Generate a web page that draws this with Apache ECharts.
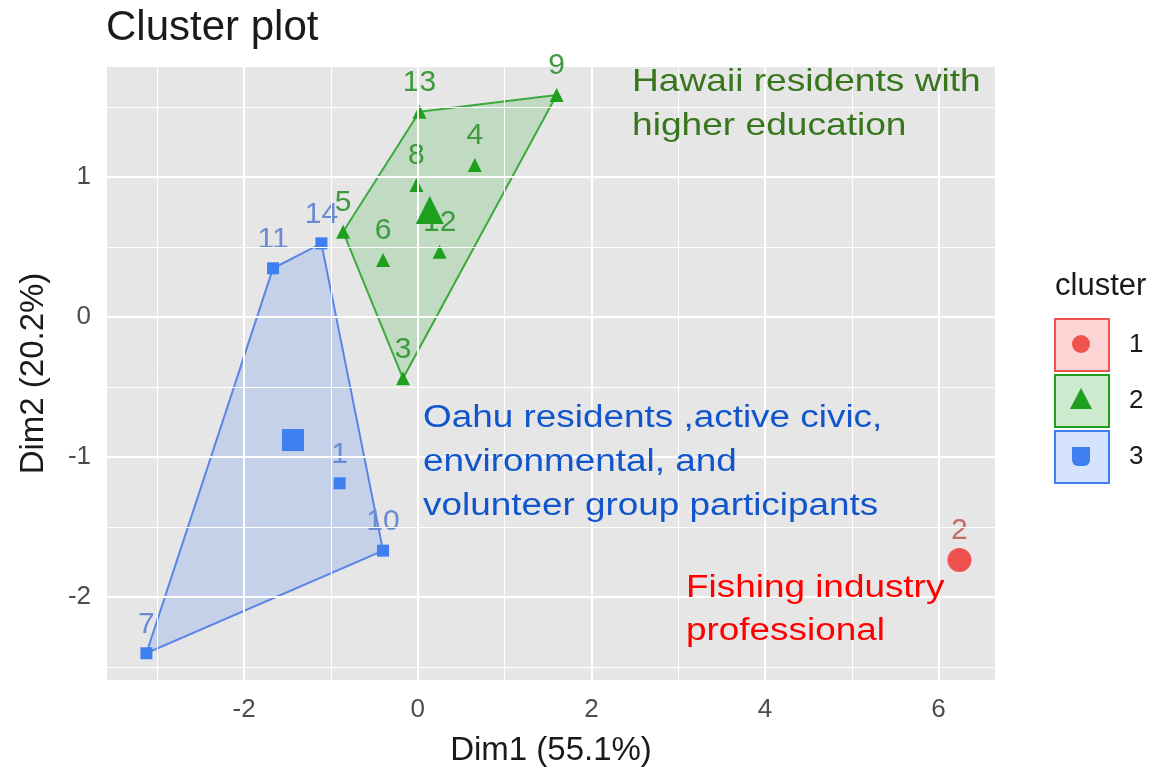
<!DOCTYPE html>
<html>
<head>
<meta charset="utf-8">
<script src="https://cdn.jsdelivr.net/npm/echarts@6/dist/echarts.min.js"></script>
<style>html,body{margin:0;padding:0;background:#fff;}#c{width:1174px;height:772px;}</style>
</head>
<body>
<div id="c"></div>
<script>
// ---- data ----
const cluster1Labels = ['2'];
const cluster1X = [6.24];
const cluster1Y = [-1.736];

const cluster2Labels = ['3', '4', '5', '6', '8', '9', '12', '13'];
const cluster2X = [-0.17, 0.657, -0.86, -0.40, -0.015, 1.60, 0.253, 0.02];
const cluster2Y = [-0.438, 1.086, 0.609, 0.407, 0.943, 1.586, 0.466, 1.466];

const cluster3Labels = ['1', '7', '10', '11', '14'];
const cluster3X = [-0.90, -3.126, -0.40, -1.667, -1.11];
const cluster3Y = [-1.188, -2.402, -1.669, 0.348, 0.526];

const centerX = [6.24, 0.138, -1.437];
const centerY = [-1.736, 0.764, -0.879];

const hull2 = ['13', '9', '3', '5'];
const hull3 = ['14', '10', '7', '11'];

const xMajor = [-2, 0, 2, 4, 6];
const xMinor = [-3, -1, 1, 3, 5];
const yMajor = [-2, -1, 0, 1];
const yMinor = [-2.5, -1.5, -0.5, 0.5, 1.5];

const legendLabels = ['1', '2', '3'];

// ---- styles ----
const FONT = 'Liberation Sans, Arial, Helvetica, sans-serif';
const RED = '#F0524F', GREEN = '#1E9F1E', BLUE = '#3F7FF0';
const RED_LBL = '#C86A6A', GREEN_LBL = '#3D9B3D', BLUE_LBL = '#6A8AD4';

function pts(xs, ys, labels) {
  return xs.map((x, i) => ({ value: [x, ys[i]], name: labels[i] }));
}

function hullSeries(xs, ys, labels, hull, stroke, fill) {
  const verts = hull.map(l => { const i = labels.indexOf(l); return [xs[i], ys[i]]; });
  return {
    type: 'custom', silent: true, z: 2, data: verts,
    encode: { x: 0, y: 1 },
    renderItem: function (params, api) {
      if (params.dataIndex !== 0) return null;
      return {
        type: 'polygon',
        shape: { points: verts.map(v => api.coord(v)) },
        style: { fill: fill, stroke: stroke, lineWidth: 2 }
      };
    }
  };
}

function pointSeries(xs, ys, labels, symbol, size, color, lblColor) {
  return {
    type: 'scatter', z: 4, symbol: symbol, symbolSize: size,
    data: pts(xs, ys, labels),
    itemStyle: { color: color, opacity: 1 },
    label: {
      show: true, formatter: '{b}', position: 'inside', offset: [0, -29],
      color: lblColor, fontSize: 30, fontFamily: FONT
    },
    emphasis: { disabled: true }
  };
}

const gridLines = [];
xMajor.forEach(v => gridLines.push({ xAxis: v, lineStyle: { width: 2 } }));
xMinor.forEach(v => gridLines.push({ xAxis: v, lineStyle: { width: 1 } }));
yMajor.forEach(v => gridLines.push({ yAxis: v, lineStyle: { width: 2 } }));
yMinor.forEach(v => gridLines.push({ yAxis: v, lineStyle: { width: 1 } }));

const chart = echarts.init(document.getElementById('c'), null, { renderer: 'canvas' });

const legendColors = [RED, GREEN, BLUE];
const legendFill = ['rgba(240,82,79,0.25)', 'rgba(30,160,30,0.22)', 'rgba(63,127,240,0.22)'];
const legendSymbols = ['circle', 'triangle', 'rect'];
const legendGraphics = [];
legendLabels.forEach((lab, i) => {
  const top = 318 + i * 56;
  legendGraphics.push({
    type: 'rect', left: 1054, top: top, shape: { width: 54, height: 52 },
    style: { fill: legendFill[i], stroke: legendColors[i], lineWidth: 2 }, z: 10
  });
  let shapeEl;
  if (legendSymbols[i] === 'circle') {
    shapeEl = { type: 'circle', shape: { cx: 1081, cy: top + 26, r: 9 } };
  } else if (legendSymbols[i] === 'triangle') {
    shapeEl = { type: 'polygon', shape: { points: [[1081, top + 14], [1092, top + 35], [1070, top + 35]] } };
  } else {
    shapeEl = { type: 'rect', shape: { x: 1072, y: top + 17, width: 18, height: 19, r: [0, 0, 6, 6] } };
  }
  shapeEl.style = { fill: legendColors[i] };
  shapeEl.z = 11;
  legendGraphics.push(shapeEl);
  legendGraphics.push({
    type: 'text', left: 1129, top: top + 14, z: 11,
    style: { text: lab, font: '26px ' + FONT, fill: '#1a1a1a' }
  });
});
legendGraphics.push({
  type: 'text', left: 1055, top: 271, z: 11,
  style: { text: 'cluster', font: '31px ' + FONT, fill: '#1a1a1a' }
});

const annotations = [
  { type: 'text', x: 632, y: 60, scaleX: 1.16, z: 12,
    style: { text: 'Hawaii residents with\nhigher education', font: '32px ' + FONT, fill: '#38761D', lineHeight: 44 } },
  { type: 'text', x: 423, y: 396, scaleX: 1.19, z: 12,
    style: { text: 'Oahu residents ,active civic,\nenvironmental, and\nvolunteer group participants', font: '31px ' + FONT, fill: '#1155CC', lineHeight: 44 } },
  { type: 'text', x: 686, y: 567, scaleX: 1.19, z: 12,
    style: { text: 'Fishing industry\nprofessional', font: '31px ' + FONT, fill: '#FF0000', lineHeight: 43 } }
];

const option = {
  animation: false,
  backgroundColor: '#ffffff',
  title: {
    text: 'Cluster plot', left: 106, top: 7, padding: 0,
    textStyle: { fontSize: 42, fontWeight: 'normal', color: '#1a1a1a', fontFamily: FONT }
  },
  grid: {
    left: 107, right: 179, top: 67, bottom: 92,
    show: true, backgroundColor: '#E6E6E6', borderWidth: 0
  },
  xAxis: {
    type: 'value', min: -3.58, max: 6.65,
    name: 'Dim1 (55.1%)', nameLocation: 'middle', nameGap: 54,
    nameTextStyle: { fontSize: 33, color: '#1a1a1a', fontFamily: FONT },
    axisLine: { show: false },
    axisTick: { show: true, customValues: xMajor, length: 8, lineStyle: { color: '#333', width: 2 } },
    axisLabel: { customValues: xMajor, color: '#4D4D4D', fontSize: 26, margin: 17, fontFamily: FONT },
    splitLine: { show: false }
  },
  yAxis: {
    type: 'value', min: -2.593, max: 1.786,
    name: 'Dim2 (20.2%)', nameLocation: 'middle', nameGap: 57, nameRotate: 90,
    nameTextStyle: { fontSize: 33, color: '#1a1a1a', fontFamily: FONT },
    axisLine: { show: false },
    axisTick: { show: true, customValues: yMajor, length: 8, lineStyle: { color: '#333', width: 2 } },
    axisLabel: { customValues: yMajor, color: '#4D4D4D', fontSize: 26, margin: 16, fontFamily: FONT },
    splitLine: { show: false }
  },
  graphic: legendGraphics.concat(annotations),
  series: [
    {
      type: 'scatter', data: [], z: 1, silent: true,
      markLine: {
        silent: true, symbol: ['none', 'none'], label: { show: false },
        lineStyle: { color: '#ffffff', type: 'solid' },
        data: gridLines, animation: false
      }
    },
    hullSeries(cluster2X, cluster2Y, cluster2Labels, hull2, '#3DAA3D', 'rgba(40,175,50,0.2)'),
    hullSeries(cluster3X, cluster3Y, cluster3Labels, hull3, '#5A84E6', 'rgba(80,130,245,0.22)'),
    pointSeries(cluster1X, cluster1Y, cluster1Labels, 'circle', 12, RED, RED_LBL),
    pointSeries(cluster2X, cluster2Y, cluster2Labels, 'triangle', 14, GREEN, GREEN_LBL),
    pointSeries(cluster3X, cluster3Y, cluster3Labels, 'rect', 12, BLUE, BLUE_LBL),
    {
      type: 'scatter', z: 5, silent: true,
      itemStyle: { opacity: 1 },
      data: [
        { value: [centerX[0], centerY[0]], symbol: 'circle', symbolSize: 24, itemStyle: { color: RED, opacity: 1 } },
        { value: [centerX[1], centerY[1]], symbol: 'triangle', symbolSize: 28, itemStyle: { color: GREEN, opacity: 1 } },
        { value: [centerX[2], centerY[2]], symbol: 'rect', symbolSize: 22, itemStyle: { color: BLUE, opacity: 1 } }
      ]
    }
  ]
};
chart.setOption(option);
</script>
</body>
</html>
